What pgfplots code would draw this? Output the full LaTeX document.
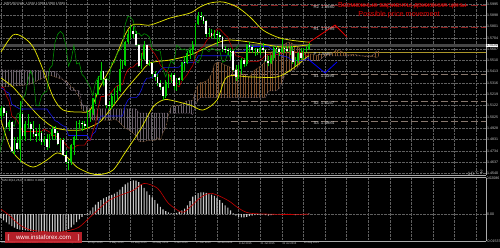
\documentclass[border=0pt]{standalone}
\usepackage{fontspec}
\setmainfont{Liberation Sans}
\usepackage{pgfplots}
\pgfplotsset{compat=1.18}
\usepackage{pgfplotstable}
\usetikzlibrary{patterns.meta}

\definecolor{gridc}{RGB}{95,95,95}
\definecolor{axc}{RGB}{170,170,170}
\definecolor{txt}{RGB}{205,205,205}
\definecolor{bbyel}{RGB}{225,225,0}
\definecolor{tenkan}{RGB}{190,0,0}
\definecolor{kijun}{RGB}{20,20,230}
\definecolor{chikou}{RGB}{0,150,0}
\definecolor{candg}{RGB}{0,205,0}
\definecolor{kumoup}{RGB}{125,80,45}
\definecolor{kumodn}{RGB}{105,95,105}
\definecolor{spanA}{RGB}{200,140,90}
\definecolor{spanB}{RGB}{175,150,170}
\definecolor{rline}{RGB}{140,30,30}
\definecolor{sline}{RGB}{135,118,108}
\definecolor{pline}{RGB}{170,150,40}
\definecolor{macdbar}{RGB}{200,200,200}
\definecolor{sig}{RGB}{200,0,0}
\definecolor{mvred}{RGB}{230,0,0}
\definecolor{logo}{RGB}{200,35,45}
\definecolor{cpline}{RGB}{70,70,70}

\pgfplotstableread{
i O H L C
0 1.5030 1.5120 1.5010 1.5100
1 1.5100 1.5110 1.5030 1.5060
2 1.5060 1.5075 1.4930 1.4935
3 1.4935 1.5000 1.4905 1.4980
4 1.4980 1.4990 1.4716 1.4730
5 1.4730 1.4850 1.4700 1.4800
6 1.4800 1.4850 1.4740 1.4750
7 1.4750 1.5165 1.4635 1.5050
8 1.5050 1.5060 1.4830 1.4860
9 1.4860 1.4990 1.4820 1.4960
10 1.4960 1.5050 1.4930 1.4965
11 1.4965 1.4980 1.4820 1.4920
12 1.4920 1.4990 1.4850 1.4880
13 1.4880 1.4930 1.4810 1.4860
14 1.4860 1.4960 1.4820 1.4890
15 1.4890 1.4900 1.4780 1.4810
16 1.4810 1.4860 1.4780 1.4835
17 1.4835 1.4880 1.4740 1.4765
18 1.4765 1.4880 1.4760 1.4860
19 1.4860 1.4950 1.4830 1.4920
20 1.4920 1.4950 1.4830 1.4890
21 1.4890 1.4900 1.4780 1.4790
22 1.4790 1.4840 1.4720 1.4830
23 1.4830 1.4840 1.4690 1.4700
24 1.4700 1.4730 1.4620 1.4640
25 1.4640 1.4660 1.4565 1.4635
26 1.4635 1.4790 1.4610 1.4780
27 1.4780 1.4860 1.4700 1.4850
28 1.4850 1.4990 1.4830 1.4960
29 1.4960 1.5000 1.4920 1.4970
30 1.4970 1.4990 1.4900 1.4960
31 1.4960 1.4990 1.4920 1.4945
32 1.4945 1.5080 1.4930 1.5050
33 1.5050 1.5080 1.4980 1.5060
34 1.5060 1.5190 1.5040 1.5185
35 1.5185 1.5230 1.5140 1.5215
36 1.5215 1.5380 1.5210 1.5345
37 1.5345 1.5500 1.5340 1.5420
38 1.5420 1.5420 1.5300 1.5350
39 1.5350 1.5355 1.5100 1.5125
40 1.5125 1.5160 1.5085 1.5120
41 1.5120 1.5230 1.5090 1.5205
42 1.5205 1.5270 1.5140 1.5235
43 1.5235 1.5290 1.5170 1.5245
44 1.5245 1.5520 1.5240 1.5440
45 1.5440 1.5510 1.5440 1.5470
46 1.5470 1.5680 1.5460 1.5665
47 1.5665 1.5775 1.5650 1.5735
48 1.5735 1.5815 1.5690 1.5760
49 1.5760 1.5800 1.5705 1.5735
50 1.5735 1.5760 1.5630 1.5640
51 1.5640 1.5650 1.5450 1.5460
52 1.5460 1.5570 1.5440 1.5520
53 1.5520 1.5680 1.5510 1.5640
54 1.5640 1.5645 1.5470 1.5480
55 1.5480 1.5510 1.5460 1.5490
56 1.5490 1.5500 1.5370 1.5390
57 1.5390 1.5420 1.5330 1.5365
58 1.5365 1.5390 1.5290 1.5320
59 1.5320 1.5340 1.5260 1.5280
60 1.5280 1.5290 1.5170 1.5205
61 1.5205 1.5340 1.5190 1.5325
62 1.5325 1.5390 1.5270 1.5365
63 1.5365 1.5400 1.5320 1.5385
64 1.5385 1.5400 1.5260 1.5290
65 1.5290 1.5360 1.5250 1.5355
66 1.5355 1.5370 1.5300 1.5340
67 1.5340 1.5500 1.5330 1.5495
68 1.5495 1.5550 1.5420 1.5490
69 1.5490 1.5590 1.5480 1.5570
70 1.5570 1.5610 1.5520 1.5600
71 1.5600 1.5680 1.5560 1.5640
72 1.5640 1.5830 1.5630 1.5820
73 1.5820 1.5930 1.5810 1.5890
74 1.5890 1.5930 1.5860 1.5880
75 1.5880 1.5890 1.5820 1.5850
76 1.5850 1.5860 1.5710 1.5740
77 1.5740 1.5790 1.5710 1.5745
78 1.5745 1.5780 1.5700 1.5720
79 1.5720 1.5770 1.5690 1.5740
80 1.5740 1.5760 1.5630 1.5730
81 1.5730 1.5750 1.5680 1.5710
82 1.5710 1.5720 1.5580 1.5605
83 1.5605 1.5630 1.5570 1.5600
84 1.5600 1.5620 1.5560 1.5595
85 1.5595 1.5620 1.5510 1.5590
86 1.5590 1.5600 1.5420 1.5430
87 1.5430 1.5470 1.5330 1.5370
88 1.5370 1.5470 1.5350 1.5440
89 1.5440 1.5530 1.5390 1.5510
90 1.5510 1.5530 1.5450 1.5480
91 1.5480 1.5650 1.5460 1.5640
92 1.5640 1.5670 1.5580 1.5625
93 1.5625 1.5640 1.5570 1.5600
94 1.5600 1.5620 1.5550 1.5610
95 1.5610 1.5620 1.5560 1.5585
96 1.5585 1.5640 1.5560 1.5620
97 1.5620 1.5660 1.5580 1.5600
98 1.5600 1.5610 1.5500 1.5505
99 1.5505 1.5550 1.5460 1.5490
100 1.5490 1.5560 1.5480 1.5530
101 1.5530 1.5630 1.5510 1.5615
102 1.5615 1.5635 1.5570 1.5605
103 1.5605 1.5620 1.5550 1.5585
104 1.5585 1.5690 1.5570 1.5615
105 1.5615 1.5630 1.5570 1.5605
106 1.5605 1.5630 1.5580 1.5590
107 1.5590 1.5630 1.5560 1.5595
108 1.5595 1.5635 1.5480 1.5495
109 1.5495 1.5540 1.5460 1.5505
110 1.5505 1.5580 1.5490 1.5575
111 1.5575 1.5620 1.5510 1.5530
112 1.5530 1.5620 1.5520 1.5605
113 1.5605 1.5630 1.5580 1.5610
114 1.5610 1.5665 1.5600 1.5639
}\ohlc

\pgfplotstableread{
i m
0 -0.0023
1 -0.0035
2 -0.0047
3 -0.0058
4 -0.0068
5 -0.0077
6 -0.0084
7 -0.0088
8 -0.0090
9 -0.0092
10 -0.0094
11 -0.0097
12 -0.0099
13 -0.0100
14 -0.0101
15 -0.0102
16 -0.0101
17 -0.0101
18 -0.0100
19 -0.0100
20 -0.0101
21 -0.0101
22 -0.0100
23 -0.0099
24 -0.0093
25 -0.0085
26 -0.0075
27 -0.0060
28 -0.0045
29 -0.0030
30 -0.0015
31 -0.0002
32 0.0008
33 0.0020
34 0.0038
35 0.0055
36 0.0070
37 0.0080
38 0.0090
39 0.0097
40 0.0104
41 0.0110
42 0.0117
43 0.0127
44 0.0140
45 0.0155
46 0.0170
47 0.0180
48 0.0188
49 0.0192
50 0.0191
51 0.0182
52 0.0170
53 0.0150
54 0.0130
55 0.0110
56 0.0095
57 0.0080
58 0.0060
59 0.0042
60 0.0028
61 0.0018
62 0.0010
63 0.0006
64 0.0006
65 0.0008
66 0.0014
67 0.0022
68 0.0032
69 0.0050
70 0.0075
71 0.0100
72 0.0108
73 0.0120
74 0.0124
75 0.0124
76 0.0122
77 0.0117
78 0.0112
79 0.0104
80 0.0093
81 0.0080
82 0.0065
83 0.0050
84 0.0037
85 0.0022
86 0.0005
87 -0.0008
88 -0.0015
89 -0.0018
90 -0.0018
91 -0.0015
92 -0.0011
93 -0.0008
94 -0.0005
95 -0.0004
96 -0.0002
97 -0.0002
98 -0.0006
99 -0.0008
100 -0.0006
101 -0.0002
102 0.0000
103 0.0001
104 0.0002
105 0.0003
106 0.0002
107 0.0002
108 -0.0004
109 -0.0006
110 -0.0003
111 -0.0003
112 0.0001
113 0.0002
114 0.0004
}\macd

\newcommand{\tinyf}{\fontsize{3.6}{4}\selectfont}
\tikzset{lvl/.style={font=\fontsize{4.4}{5}\selectfont, text=txt, anchor=west, inner sep=0.2bp}}

\begin{document}
\begin{tikzpicture}
\fill[black] (0,0) rectangle (500bp,-248bp);

\begin{axis}[
  at={(0bp,0bp)}, anchor=north west, scale only axis,
  width=486bp, height=175bp,
  xmin=-0.37, xmax=179.6, ymin=1.4526, ymax=1.6029,
  axis x line*=bottom, axis y line*=right,
  axis line style={axc, line width=0.8bp, -},
  xtick={0,8,...,176}, xticklabels={},
  ytick={1.4540,1.4637,1.4734,1.4831,1.4928,1.5025,1.5122,1.5219,1.5316,1.5413,1.5510,1.5607,1.5704,1.5801,1.5898,1.5995},
  yticklabel style={font=\tinyf, text=txt, inner sep=0.4bp, anchor=west, xshift=0.6bp,
    /pgf/number format/fixed, /pgf/number format/fixed zerofill,
    /pgf/number format/precision=4, /pgf/number format/assume math mode=true},
  major tick length=0pt,
  grid=major, grid style={gridc, densely dotted, line width=0.45bp},
]
% current price line
\addplot[cpline, line width=2.4bp] coordinates {(-1,1.5639) (181,1.5639)};
% pivot levels
\addplot[rline, line width=0.6bp, dash pattern=on 7bp off 3bp] coordinates {(85,1.5980) (181,1.5980)};
\addplot[rline, line width=0.6bp, dash pattern=on 7bp off 3bp] coordinates {(85,1.5795) (181,1.5795)};
\addplot[pline, line width=0.6bp] coordinates {(85,1.5580) (181,1.5580)};
\addplot[sline, line width=0.6bp, dash pattern=on 7bp off 3bp] coordinates {(85,1.5390) (181,1.5390)};
\addplot[sline, line width=0.6bp, dash pattern=on 7bp off 3bp] coordinates {(85,1.5157) (181,1.5157)};
\addplot[sline, line width=0.6bp, dash pattern=on 7bp off 3bp] coordinates {(85,1.4984) (181,1.4984)};

% Ichimoku cloud (down part: span B above span A)
\addplot[draw=none, pattern={Lines[angle=90,distance=2.7bp,line width=0.45bp]}, pattern color=kumodn] coordinates {
(0,1.5282) (10,1.5300) (18,1.5385) (23,1.5345) (25,1.5320) (26,1.5280) (27,1.5275)
(28,1.5223) (29,1.5194) (30,1.5083) (31,1.5074) (32,1.5064) (33,1.5021) (34,1.4997)
(41,1.4997) (42,1.5007) (43,1.4994) (44,1.4977) (45,1.4947) (46,1.4929) (47,1.4917)
(48,1.4902) (49,1.4884) (50,1.4863) (51,1.4812) (53,1.4812) (54,1.4822) (55,1.4824)
(57,1.4824) (58,1.4844) (59,1.4823) (60,1.4889) (61,1.4932) (62,1.5039) (63,1.5117)
(64,1.5117) (65,1.5122) (66,1.5124) (67,1.5137) (68,1.5152) (69,1.5163) (71,1.5168)
(72,1.5253)
(72,1.5123) (71,1.5043) (70,1.5058) (51,1.5058) (50,1.5093) (33,1.5093) (30,1.5133)
(29,1.5250) (26,1.5250) (24,1.5320) (20,1.5415) (12,1.5425) (0,1.5428)};
% Ichimoku cloud (up part: span A above span B)
\addplot[draw=none, pattern={Lines[angle=90,distance=2.7bp,line width=0.45bp]}, pattern color=kumoup] coordinates {
(72,1.5253) (73,1.5300) (74,1.5320) (75,1.5322) (76,1.5334) (77,1.5353) (78,1.5393)
(79,1.5476) (80,1.5493) (81,1.5493) (82,1.5481) (83,1.5469) (84,1.5462) (85,1.5449)
(86,1.5438) (87,1.5438) (88,1.5429) (89,1.5395) (90,1.5393) (91,1.5373) (92,1.5369)
(93,1.5407) (94,1.5427) (95,1.5442) (96,1.5462) (97,1.5479) (98,1.5517) (99,1.5570)
(100,1.5583) (101,1.5590) (102,1.5613) (103,1.5628) (104,1.5638) (105,1.5648) (106,1.5665)
(107,1.5665) (108,1.5653) (109,1.5640) (110,1.5630) (111,1.5600) (112,1.5580) (113,1.5570)
(114,1.5568) (115,1.5565) (116,1.5558) (117,1.5553) (118,1.5565) (121,1.5565) (122,1.5570)
(123,1.5580) (124,1.5595) (125,1.5598) (126,1.5588) (127,1.5578) (128,1.5560) (129,1.5558)
(130,1.5563) (131,1.5560) (132,1.5558) (133,1.5550) (134,1.5548) (135,1.5543) (138,1.5543)
(139,1.5534) (140,1.5552)
(140,1.5590) (139,1.5590) (138,1.5560) (137,1.5550) (120,1.5550) (119,1.5535) (118,1.5510)
(117,1.5508) (112,1.5508) (111,1.5485) (110,1.5455) (109,1.5430) (108,1.5425) (107,1.5415)
(106,1.5415) (105,1.5380) (104,1.5315) (103,1.5270) (102,1.5248) (99,1.5248) (98,1.5190)
(74,1.5190) (73,1.5170) (72,1.5123)};
% Senkou span A
\addplot[spanA, densely dotted, line width=0.5bp] coordinates {
(0,1.5282) (10,1.5300) (18,1.5385) (23,1.5345) (25,1.5320)
(26,1.5280) (27,1.5275) (28,1.5223) (29,1.5194) (30,1.5083) (31,1.5074) (32,1.5064)
(33,1.5021) (34,1.4997) (41,1.4997) (42,1.5007) (43,1.4994) (44,1.4977) (45,1.4947)
(46,1.4929) (47,1.4917) (48,1.4902) (49,1.4884) (50,1.4863) (51,1.4812) (53,1.4812)
(54,1.4822) (55,1.4824) (57,1.4824) (58,1.4844) (59,1.4823) (60,1.4889) (61,1.4932)
(62,1.5039) (63,1.5117) (64,1.5117) (65,1.5122) (66,1.5124) (67,1.5137) (68,1.5152)
(69,1.5163) (71,1.5168) (72,1.5253) (73,1.5300) (74,1.5320) (75,1.5322) (76,1.5334)
(77,1.5353) (78,1.5393) (79,1.5476) (80,1.5493) (81,1.5493) (82,1.5481) (83,1.5469)
(84,1.5462) (85,1.5449) (86,1.5438) (87,1.5438) (88,1.5429) (89,1.5395) (90,1.5393)
(91,1.5373) (92,1.5369) (93,1.5407) (94,1.5427) (95,1.5442) (96,1.5462) (97,1.5479)
(98,1.5517) (99,1.5570) (100,1.5583) (101,1.5590) (102,1.5613) (103,1.5628) (104,1.5638)
(105,1.5648) (106,1.5665) (107,1.5665) (108,1.5653) (109,1.5640) (110,1.5630) (111,1.5600)
(112,1.5580) (113,1.5570) (114,1.5568) (115,1.5565) (116,1.5558) (117,1.5553) (118,1.5565)
(121,1.5565) (122,1.5570) (123,1.5580) (124,1.5595) (125,1.5598) (126,1.5588) (127,1.5578)
(128,1.5560) (129,1.5558) (130,1.5563) (131,1.5560) (132,1.5558) (133,1.5550) (134,1.5548)
(135,1.5543) (138,1.5543) (139,1.5534) (140,1.5552)};
% Senkou span B
\addplot[spanB, densely dotted, line width=0.5bp] coordinates {
(0,1.5428) (12,1.5425) (20,1.5415) (24,1.5320) (26,1.5250) (29,1.5250) (30,1.5133)
(33,1.5093) (50,1.5093) (51,1.5058) (70,1.5058) (71,1.5043) (72,1.5123) (73,1.5170)
(74,1.5190) (98,1.5190) (99,1.5248) (102,1.5248) (103,1.5270) (104,1.5315) (105,1.5380)
(106,1.5415) (107,1.5415) (108,1.5425) (109,1.5430) (110,1.5455) (111,1.5485) (112,1.5508)
(117,1.5508) (118,1.5510) (119,1.5535) (120,1.5550) (137,1.5550) (138,1.5560) (139,1.5590)
(140,1.5590)};

% Bollinger bands
\addplot[bbyel, line width=0.75bp, smooth] coordinates {
(0,1.5582) (4.4,1.5728) (8.1,1.5711) (11.9,1.5625) (15.6,1.5428) (19.3,1.5196)
(23,1.5084) (29.3,1.5067) (33,1.5084) (36.7,1.5282) (41.5,1.5488) (47.8,1.5800)
(55.2,1.5814) (62.6,1.5874) (70,1.5917) (73.7,1.5969) (77.4,1.6003) (82.2,1.6012)
(87.4,1.5969) (92.2,1.5883) (97,1.5771) (102.2,1.5711) (107,1.5685) (113.3,1.5668) (114,1.5668)};
\addplot[bbyel, line width=0.75bp, smooth] coordinates {
(0,1.5359) (4.4,1.5282) (9.6,1.5144) (14.4,1.5024) (19.3,1.4938) (24.4,1.4912)
(29.3,1.4912) (33,1.4938) (37,1.4990) (41.5,1.5120) (46.7,1.5273) (51.5,1.5402)
(55.2,1.5488) (62.6,1.5514) (70,1.5557) (80,1.5660) (84.8,1.5685) (92.2,1.5668)
(104.4,1.5625) (113.3,1.5642) (114,1.5642)};
\addplot[bbyel, line width=0.75bp, smooth] coordinates {
(0,1.4998) (3.3,1.4766) (7,1.4655) (11.9,1.4594) (17,1.4655) (20.7,1.4715) (24.4,1.4680)
(28.1,1.4594) (33,1.4540) (36.7,1.4530) (41.5,1.4569) (46,1.4720) (51.5,1.4912)
(56.3,1.5110) (60,1.5170) (62.6,1.5170) (70,1.5127) (74.8,1.5084) (80,1.5170)
(83.7,1.5368) (92.2,1.5368) (102.2,1.5368) (108,1.5440) (113.3,1.5539) (114,1.5545)};

% Kijun-sen
\addplot[kijun, line width=0.6bp] coordinates {
(0,1.5280) (2,1.5240) (3,1.5228) (4,1.5133) (7,1.5093) (17,1.5093) (18,1.5058)
(19,1.5028) (20,1.4993) (21,1.4983) (22,1.4963) (23,1.4948) (24,1.4940) (25,1.4865)
(32,1.4865) (33,1.4823) (34,1.4878) (35,1.4898) (36,1.4973) (37,1.5033) (45,1.5033)
(46,1.5123) (47,1.5170) (48,1.5190) (50,1.5190) (51,1.5213) (52,1.5258) (53,1.5323)
(54,1.5358) (55,1.5358) (56,1.5368) (57,1.5373) (58,1.5398) (59,1.5428) (60,1.5450)
(65,1.5450) (66,1.5453) (67,1.5478) (68,1.5493) (72,1.5493) (73,1.5550) (85,1.5550)
(86,1.5560) (87,1.5590) (90,1.5590) (91,1.5615) (92,1.5630) (99,1.5630) (100,1.5610)
(101,1.5595) (102,1.5560) (103,1.5555) (104,1.5550) (105,1.5545) (106,1.5540)
(107,1.5525) (108,1.5510) (112,1.5510) (113,1.5520) (114,1.5540)};
% Tenkan-sen
\addplot[tenkan, line width=0.6bp] coordinates {
(0,1.5280) (1,1.5280) (2,1.5205) (3,1.5160) (4,1.5033) (5,1.5015) (6,1.4995) (7,1.4948)
(8,1.4900) (15,1.4900) (16,1.4920) (18,1.4895) (19,1.4865) (20,1.4865) (21,1.4850)
(22,1.4840) (23,1.4820) (24,1.4785) (25,1.4758) (27,1.4758) (28,1.4778) (29,1.4783)
(31,1.4783) (32,1.4823) (33,1.4823) (34,1.4900) (35,1.4965) (36,1.5105) (37,1.5200)
(38,1.5200) (39,1.5210) (40,1.5215) (41,1.5240) (42,1.5270) (43,1.5293) (45,1.5303)
(46,1.5383) (47,1.5430) (48,1.5450) (49,1.5453) (50,1.5478) (51,1.5493) (52,1.5528)
(53,1.5628) (55,1.5628) (56,1.5593) (57,1.5565) (58,1.5525) (59,1.5470) (61,1.5425)
(62,1.5408) (63,1.5340) (64,1.5335) (65,1.5295) (66,1.5285) (67,1.5335) (68,1.5360)
(69,1.5390) (70,1.5430) (71,1.5465) (72,1.5540) (73,1.5590) (74,1.5615) (75,1.5630)
(76,1.5675) (77,1.5705) (78,1.5725) (79,1.5745) (80,1.5780) (81,1.5780) (82,1.5755)
(83,1.5730) (84,1.5710) (85,1.5650) (86,1.5600) (87,1.5550) (88,1.5545) (89,1.5540)
(90,1.5525) (91,1.5490) (92,1.5500) (95,1.5500) (96,1.5510) (97,1.5530) (98,1.5560)
(100,1.5565) (103,1.5560) (104,1.5575) (107,1.5575) (108,1.5585) (112,1.5575)
(113,1.5548) (114,1.5563)};
% Chikou span
\addplot[chikou, line width=0.55bp] table[x expr=\thisrow{i}-26, y=C] {\ohlc};

% candles: wicks and bodies
\addplot[candg, line width=0.5bp, quiver={u=0, v={\thisrow{H}-\thisrow{L}}}] table[x=i, y=L] {\ohlc};
\addplot[candg, line width=1.7bp, quiver={u=0, v={max(\thisrow{C}-\thisrow{O},0)}}] table[x=i, y=O] {\ohlc};
\addplot[white, line width=1.7bp, quiver={u=0, v={max(\thisrow{O}-\thisrow{C},0)}}] table[x=i, y=C] {\ohlc};

% forecast paths
\addplot[mvred, line width=0.8bp] coordinates {(113.7,1.5660) (123.7,1.5814) (128.1,1.5711)};
\addplot[blue, line width=0.8bp] coordinates {(113.7,1.5522) (120,1.5402) (124.4,1.5496)};

\coordinate (r2) at (axis cs:115.6,1.5968);
\coordinate (r1) at (axis cs:115.6,1.5782);
\coordinate (pp) at (axis cs:115.6,1.5566);
\coordinate (s1) at (axis cs:115.6,1.5376);
\coordinate (s2) at (axis cs:115.6,1.5143);
\coordinate (s3) at (axis cs:115.6,1.4970);
\coordinate (t1) at (axis cs:148.6,1.5977);
\coordinate (t2) at (axis cs:147.4,1.5900);
\coordinate (cp) at (axis cs:179.6,1.5639);
\end{axis}
\node[lvl] at (r2) {R2\, 1.5980};
\node[lvl] at (r1) {R1\, 1.5795};
\node[lvl] at (pp) {P\, 1.5580};
\node[lvl] at (s1) {S1\, 1.5390};
\node[lvl] at (s2) {S2\, 1.5157};
\node[lvl] at (s3) {S3\, 1.4984};
\node[text=mvred, font=\fontsize{7.3}{8}\selectfont, inner sep=0pt] at (t1) {Возможные варианты движения цены};
\node[text=mvred, font=\fontsize{7.3}{8}\selectfont, inner sep=0pt] at (t2) {Possible price movement};
\node[fill=white, text=black, font=\tinyf, inner sep=0.5bp, anchor=west] at (cp) {1.5639};
\node[text=txt, font=\fontsize{3}{3.5}\selectfont, anchor=west, inner sep=0pt] at (4bp,-3.5bp) {GBPUSD,Daily\ \ 1.5632 1.5669 1.5608 1.5639};

\begin{axis}[
  at={(0bp,-177.5bp)}, anchor=north west, scale only axis,
  width=486bp, height=63.5bp,
  xmin=-0.37, xmax=179.6, ymin=-0.0153, ymax=0.0209,
  axis x line*=bottom, axis y line*=right,
  axis line style={axc, line width=0.8bp, -},
  xtick={0,8,...,176},
  xticklabels={9 Mar 2015,19 Mar 2015,31 Mar 2015,10 Apr 2015,22 Apr 2015,4 May 2015,14 May 2015,26 May 2015,5 Jun 2015,17 Jun 2015,29 Jun 2015,9 Jul 2015,21 Jul 2015,31 Jul 2015,12 Aug 2015,{},{},{},{},{},{},{},{}},
  xticklabel style={anchor=north west, font=\fontsize{2.7}{3}\selectfont, text=txt, inner sep=0.3bp, yshift=-0.6bp},
  ytick={0}, yticklabels={0.00},
  yticklabel style={font=\tinyf, text=txt, inner sep=0.4bp, anchor=west, xshift=0.6bp},
  major tick length=0pt,
  grid=major, grid style={gridc, densely dotted, line width=0.45bp},
]
\addplot[ybar, bar width=1.1bp, fill=macdbar, draw=none] table[x=i, y=m] {\macd};
\addplot[sig, line width=0.6bp, smooth] coordinates {
(0,0.0028) (3,-0.0006) (7,-0.0062) (11,-0.0090) (18,-0.0102) (22,-0.0102) (26,-0.0090)
(29,-0.0073) (33,-0.0017) (37,0.0040) (40,0.0079) (44,0.0107) (49,0.0136) (53,0.0175)
(58,0.0147) (62,0.0062) (67,0.0011) (70,0.0040) (74,0.0096) (78,0.0119) (84,0.0079)
(88,0.0034) (92,0.0006) (100,0.0000) (106,-0.0002) (114,0.0000)};
\coordinate (mt) at (rel axis cs:0.004,0.97);
\coordinate (mtop) at (rel axis cs:1,1.02);
\coordinate (mbot) at (rel axis cs:1,0);
\end{axis}
\node[text=txt, font=\fontsize{3}{3.5}\selectfont, anchor=north west, inner sep=0pt] at (mt) {MACD(12,26,9)\ \ 0.0004\ \ 0.0000};
\node[text=txt, font=\tinyf, anchor=north west, inner sep=0.3bp] at (mtop) {0.02086};
\node[text=txt, font=\tinyf, anchor=west, inner sep=0.3bp] at (mbot) {-0.01537};
\draw[axc, line width=0.8bp] (0,-177.5bp) -- (486bp,-177.5bp);
\node[fill=logo, fill opacity=0.9, text opacity=1, text=white, font=\fontsize{6.2}{7}\selectfont, minimum width=77bp, minimum height=11bp, inner sep=0pt] at (43.5bp,-237.5bp) {\makebox[72bp]{[\hfill www.instaforex.com\hfill]}};
\pgfresetboundingbox
\useasboundingbox (0,0) rectangle (500bp,-248bp);
\end{tikzpicture}
\end{document}
